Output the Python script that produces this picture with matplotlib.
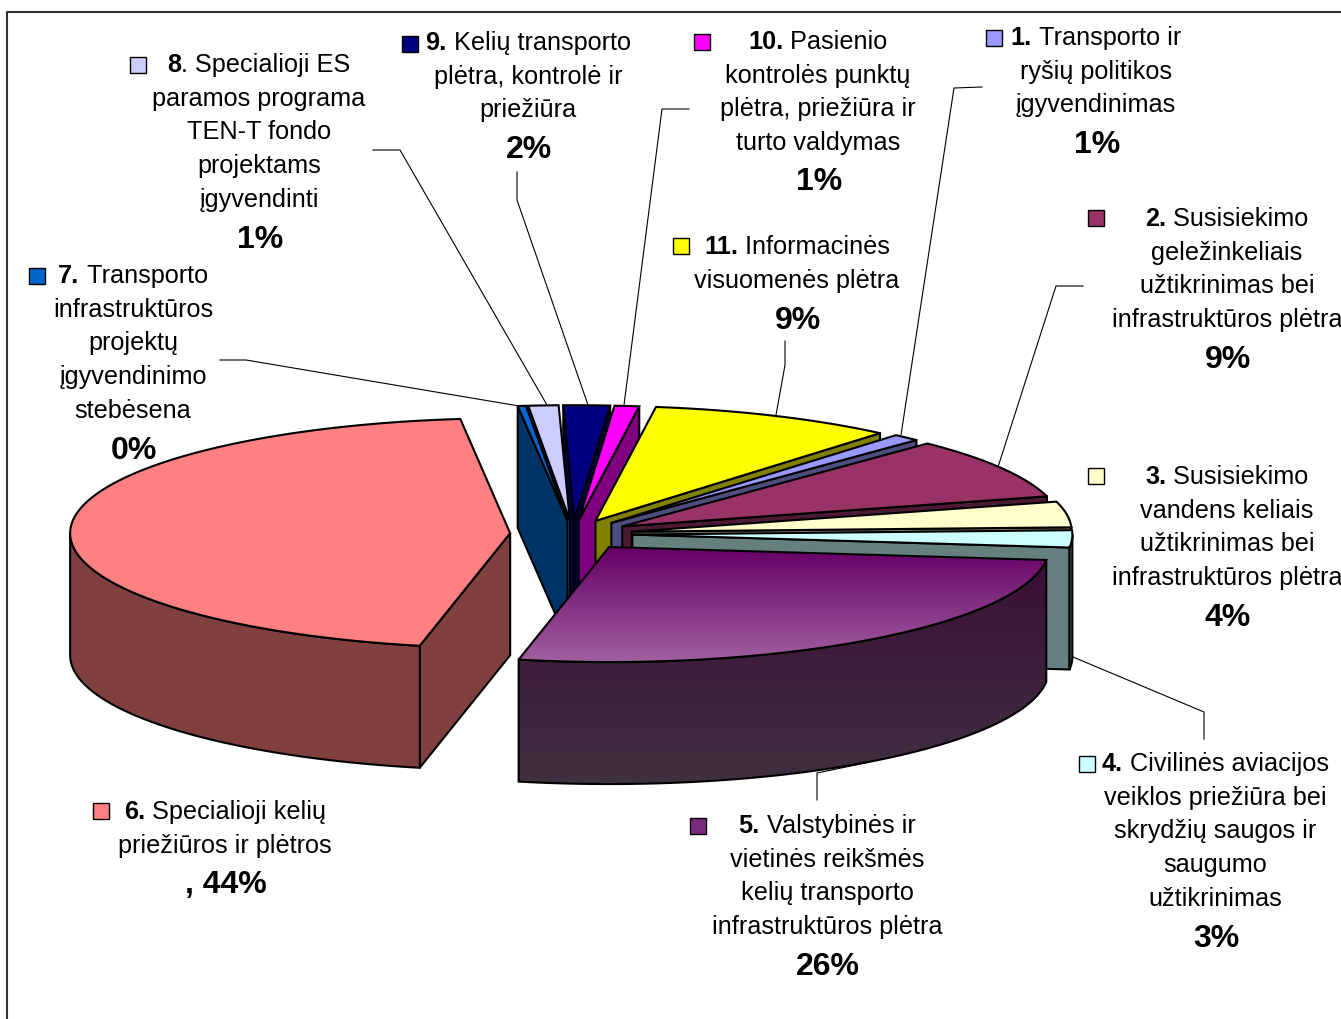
import numpy as np
import matplotlib
matplotlib.use('Agg')
import matplotlib.pyplot as plt
from matplotlib.patches import Polygon, Rectangle

plt.rcParams['font.family'] = ['Liberation Sans', 'DejaVu Sans']

# slice shares in drawing order, clockwise (the picture's labels are rounded)
slice_no = [1, 2, 3, 4, 5, 6, 7, 8, 9, 10, 11]
slice_share = [1.0, 8.6, 3.6, 2.4, 26.5, 44.9, 0.3, 1.1, 1.7, 0.9, 9.0]
pct_labels = ['1%', '9%', '4%', '3%', '26%', ', 44%', '0%', '1%', '2%', '1%', '9%']
first_bold = ['1.', '2.', '3.', '4.', '5.', '6.', '7.', '8', '9.', '10.', '11.']
first_rest = [' Transporto ir', ' Susisiekimo', ' Susisiekimo', ' Civilinės aviacijos',
              ' Valstybinės ir', ' Specialioji kelių', ' Transporto', '. Specialioji ES',
              ' Kelių transporto', ' Pasienio', ' Informacinės']
other_lines = [
    ['ryšių politikos', 'įgyvendinimas'],
    ['geležinkeliais', 'užtikrinimas bei', 'infrastruktūros plėtra'],
    ['vandens keliais', 'užtikrinimas bei', 'infrastruktūros plėtra'],
    ['veiklos priežiūra bei', 'skrydžių saugos ir', 'saugumo', 'užtikrinimas'],
    ['vietinės reikšmės', 'kelių transporto', 'infrastruktūros plėtra'],
    ['priežiūros ir plėtros'],
    ['infrastruktūros', 'projektų', 'įgyvendinimo', 'stebėsena'],
    ['paramos programa', 'TEN-T fondo', 'projektams', 'įgyvendinti'],
    ['plėtra, kontrolė ir', 'priežiūra'],
    ['kontrolės punktų', 'plėtra, priežiūra ir', 'turto valdymas'],
    ['visuomenės plėtra'],
]

top_colors = ['#9999FF', '#993366', '#FFFFCC', '#CCFFFF', '#660066', '#FF8080',
              '#0066CC', '#CCCCFF', '#000080', '#FF00FF', '#FFFF00']
wall_colors = ['#4D4D80', '#4D1A33', '#808066', '#668080', '#3A1238', '#804040',
               '#003366', '#666680', '#000040', '#800080', '#808000']
key_colors = ['#9999FF', '#993366', '#FFFFCC', '#CCFFFF', '#7A2A7A', '#FF8080',
              '#0066CC', '#CCCCFF', '#000080', '#FF00FF', '#FFFF00']
explode = [0.13, 0.13, 0.135, 0.135, 0.14, 0.143, 0.12, 0.12, 0.12, 0.12, 0.125]

# layout, in pixels of the reference
start_angle = 40.3
cx, cy = 573, 534
rx, ry = 440, 115
depth = 122
label_x = [1096, 1227, 1227, 1215, 827, 225, 133, 259, 528, 818, 797]
label_y = [45, 226, 484, 771, 833, 819, 283, 72, 50, 49, 254]
pct_gap = [41, 41, 41, 41, 41, 40, 41, 41, 41, 40, 41]
key_x = [986, 1088, 1088, 1079, 690, 93, 29, 130, 402, 694, 673]
key_y = [30, 210, 468, 756, 818, 803, 268, 57, 36, 34, 238]
leaders = [
    ([982, 954, 901], [87, 88, 435]),
    ([1083, 1056, 998], [286, 286, 467]),
    ([1204, 1204, 1073], [739, 712, 657]),
    ([817, 817, 870], [800, 773, 762]),
    ([220, 246, 519], [360, 360, 406]),
    ([373, 400, 547], [150, 150, 405]),
    ([517, 517, 588], [172, 200, 405]),
    ([689, 662, 624], [109, 109, 405]),
    ([785, 785, 776], [341, 365, 415]),
]

fig = plt.figure(figsize=(13.41, 10.19), dpi=100)
ax = fig.add_axes([0, 0, 1, 1])
ax.axis('off')


def rim(x0, y0, a, b):
    t = np.radians(np.linspace(a, b, max(int(abs(b - a)) * 2, 2)))
    return x0 + rx * np.sin(t), y0 - ry * np.cos(t)


def gradient_fill(poly_x, poly_y, c_top, c_bottom, z):
    top = np.array(matplotlib.colors.to_rgb(c_top))
    bottom = np.array(matplotlib.colors.to_rgb(c_bottom))
    k = np.linspace(0, 1, 128)[:, None, None]
    img = top[None, None, :] * (1 - k) + bottom[None, None, :] * k
    im = ax.imshow(img, extent=[min(poly_x), max(poly_x), max(poly_y), min(poly_y)],
                   aspect='auto', zorder=z, interpolation='bilinear')
    clip = Polygon(np.c_[poly_x, poly_y], closed=True, transform=ax.transData)
    im.set_clip_path(clip)


shares = np.array(slice_share) / sum(slice_share) * 360
starts = start_angle + np.r_[0, np.cumsum(shares)[:-1]]
ends = starts + shares
mids = (starts + ends) / 2
order = np.argsort(-np.cos(np.radians(mids)))

z = 2
for i in order:
    a, b = starts[i], ends[i]
    m = np.radians(mids[i])
    x0 = cx + explode[i] * rx * np.sin(m)
    y0 = cy - explode[i] * ry * np.cos(m)
    gx, gy = rim(x0, y0, a, b)
    wall_kw = dict(closed=True, fc=wall_colors[i], ec='black', lw=1.5, joinstyle='miter')

    # radial walls that face the viewer
    if np.sin(np.radians(a)) < 0:
        ex, ey = rim(x0, y0, a, a)
        ax.add_patch(Polygon([(x0, y0), (ex[0], ey[0]), (ex[0], ey[0] + depth), (x0, y0 + depth)],
                             zorder=z, **wall_kw))
    if np.sin(np.radians(b)) > 0:
        ex, ey = rim(x0, y0, b, b)
        ax.add_patch(Polygon([(x0, y0), (ex[0], ey[0]), (ex[0], ey[0] + depth), (x0, y0 + depth)],
                             zorder=z, **wall_kw))
    z += 1

    # outer wall, front half of the ellipse only
    lo, hi = max(a, 90), min(b, 270)
    if hi > lo:
        wx, wy = rim(x0, y0, lo, hi)
        wall_x = np.r_[wx, wx[::-1]]
        wall_y = np.r_[wy, wy[::-1] + depth]
        if slice_no[i] == 5:
            gradient_fill(wall_x, wall_y, '#3A0F36', '#403040', z)
            ax.add_patch(Polygon(np.c_[wall_x, wall_y], closed=True, fc='none', ec='black',
                                 lw=1.5, zorder=z + 0.5))
        else:
            ax.add_patch(Polygon(np.c_[wall_x, wall_y], zorder=z, **wall_kw))
    z += 1

    # top face
    top_x = np.r_[x0, gx]
    top_y = np.r_[y0, gy]
    if slice_no[i] == 5:
        gradient_fill(top_x, top_y, '#660066', '#A0609F', z)
        ax.add_patch(Polygon(np.c_[top_x, top_y], closed=True, fc='none', ec='black',
                             lw=1.5, zorder=z + 0.5, joinstyle='miter'))
    else:
        ax.add_patch(Polygon(np.c_[top_x, top_y], closed=True, fc=top_colors[i], ec='black',
                             lw=1.5, zorder=z, joinstyle='miter'))
    z += 1

for lx, ly in leaders:
    ax.plot(lx, ly, color='black', lw=0.8, zorder=1)

ax.set_xlim(0, 1341)
ax.set_ylim(1019, 0)

# frame runs off the right and bottom of the picture
ax.plot([7, 7, 1341], [1019, 12, 12], color='#333333', lw=1.5, zorder=1)

fig.canvas.draw()
renderer = fig.canvas.get_renderer()
fs = 18.15
pct_fs = 23
line_h = 33.7

for i in range(len(slice_no)):
    # first line: bold number followed by regular text, centred together
    t1 = ax.text(0, label_y[i], first_bold[i], fontsize=fs, fontweight='bold', va='baseline', ha='left')
    t2 = ax.text(0, label_y[i], first_rest[i].replace(' ', '\u00a0', 1), fontsize=fs, va='baseline', ha='left')
    w1 = t1.get_window_extent(renderer).width
    w2 = t2.get_window_extent(renderer).width
    left = label_x[i] - (w1 + w2) / 2
    t1.set_x(left)
    t2.set_x(left + w1)
    y = label_y[i]
    for line in other_lines[i]:
        y += line_h
        ax.text(label_x[i], y, line, fontsize=fs, va='baseline', ha='center')
    ax.text(label_x[i] + 1, y + pct_gap[i], pct_labels[i], fontsize=pct_fs, fontweight='bold',
            va='baseline', ha='center')
    ax.add_patch(Rectangle((key_x[i], key_y[i]), 16, 16, fc=key_colors[i], ec='black', lw=1.0,
                           zorder=5))

fig.savefig('out.png', dpi=100)
